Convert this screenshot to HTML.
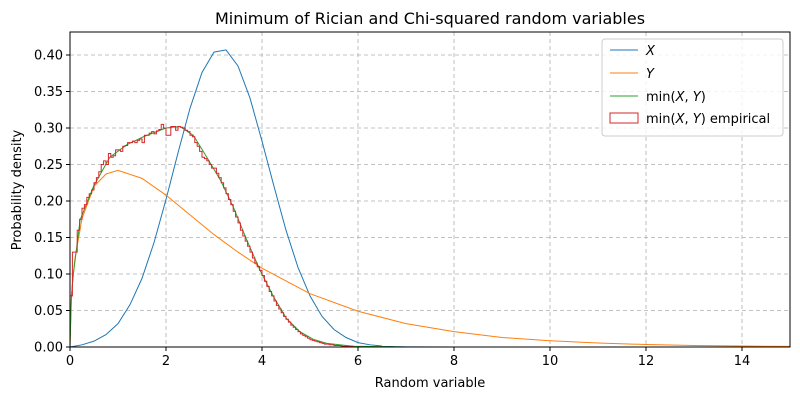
<!DOCTYPE html>
<html><head><meta charset="utf-8"><style>
body{margin:0;background:#fff;}
svg text{font-family:"DejaVu Sans","Liberation Sans",sans-serif;}
</style></head><body>
<svg id="chart" width="800" height="400" xmlns="http://www.w3.org/2000/svg"></svg>
<script>
const xPts = [0,0.25,0.5,0.75,1,1.25,1.5,1.75,2,2.25,2.5,2.75,3,3.25,3.5,3.75,4,4.25,4.5,4.75,5,5.25,5.5,5.75,6,6.25,6.5,6.75,7,8,15];
const xVals = [0,0.003,0.008,0.017,0.032,0.058,0.094,0.143,0.202,0.266,0.327,0.376,0.404,0.407,0.385,0.341,0.282,0.22,0.16,0.109,0.07,0.042,0.024,0.013,0.006,0.003,0.0013,0.0005,0.0002,0,0];
const yPts = [0,0.02,0.05,0.1,0.25,0.5,0.75,1,1.5,2,2.5,3,3.5,4,5,6,7,8,9,10,11,12,13,14,15];
const yVals = [0,0.055,0.087,0.12,0.176,0.22,0.237,0.242,0.231,0.208,0.181,0.154,0.13,0.108,0.073,0.049,0.032,0.021,0.013,0.0085,0.0054,0.0034,0.0021,0.0013,0.0008];
const mPts = [0,0.03,0.07,0.21,0.49,0.83,1.18,1.53,2.0,2.29,2.57,2.85,3.13,3.40,3.68,3.96,4.24,4.51,4.79,5.07,5.35,5.9,7,15];
const mVals = [0,0.07,0.10,0.174,0.22,0.26,0.277,0.288,0.30,0.302,0.29,0.26,0.229,0.192,0.147,0.105,0.069,0.039,0.021,0.0105,0.005,0.001,0,0];
const binWidth = 0.05;
const histVals = [
0.07,0.13,0.13,0.16,0.175,0.19,0.195,0.205,0.21,0.215,
0.225,0.232,0.24,0.25,0.255,0.25,0.265,0.26,0.262,0.27,
0.27,0.268,0.275,0.276,0.28,0.28,0.282,0.28,0.283,0.285,
0.28,0.29,0.29,0.293,0.295,0.292,0.296,0.298,0.305,0.3,
0.29,0.29,0.302,0.302,0.297,0.302,0.301,0.3,0.297,0.295,
0.29,0.288,0.28,0.275,0.268,0.26,0.258,0.255,0.25,0.245,
0.245,0.238,0.232,0.225,0.218,0.21,0.202,0.195,0.186,0.178,
0.17,0.16,0.152,0.145,0.138,0.13,0.122,0.115,0.11,0.105,
0.098,0.09,0.083,0.076,0.07,0.063,0.057,0.052,0.047,0.042,
0.038,0.034,0.03,0.027,0.024,0.021,0.018,0.016,0.014,0.012,
0.01,0.009,0.008,0.007,0.006,0.005,0.004,0.004,0.003,0.003,
0.002,0.002,0.002,0.001,0.001,0.001,0.001,0.001,0,0];
const xTicks = [0,2,4,6,8,10,12,14];
const yTicks = [0,0.05,0.1,0.15,0.2,0.25,0.3,0.35,0.4];

const L=70,R=790,T=32,B=347,XMAX=15,YMAX=0.4315;
const sx=v=>L+v/XMAX*(R-L), sy=v=>B-v/YMAX*(B-T);
const svg=document.getElementById('chart');
const NS='http://www.w3.org/2000/svg';
function mk(tag,attrs,parent){const e=document.createElementNS(NS,tag);for(const k in attrs)e.setAttribute(k,attrs[k]);(parent||svg).appendChild(e);return e;}

const grid=mk('g',{});


xTicks.forEach(t=>{mk('line',{x1:sx(t),x2:sx(t),y1:T,y2:B,stroke:'#b0b0b0','stroke-dasharray':'4,3','stroke-width':0.8},grid);});
yTicks.forEach(t=>{mk('line',{x1:L,x2:R,y1:sy(t),y2:sy(t),stroke:'#b0b0b0','stroke-dasharray':'4,3','stroke-width':0.8},grid);});

function line(px,py,color,name){
  const d=px.map((x,i)=>(i?'L':'M')+sx(x).toFixed(2)+','+sy(py[i]).toFixed(2)).join('');
  const p=mk('path',{d:d,fill:'none',stroke:color,'stroke-width':1});
  
  
}
line(xPts,xVals,'#1f77b4','series-x');
line(yPts,yVals,'#ff7f0e','series-y');
line(mPts,mVals,'#2ca02c','series-min');
let hd='M'+sx(0)+','+sy(0);
histVals.forEach((v,i)=>{hd+='L'+sx(i*binWidth).toFixed(2)+','+sy(v).toFixed(2)+'L'+sx((i+1)*binWidth).toFixed(2)+','+sy(v).toFixed(2);});
hd+='L'+sx(histVals.length*binWidth).toFixed(2)+','+sy(0);
const h=mk('path',{d:hd,fill:'none',stroke:'#d62728','stroke-width':1});



mk('rect',{x:L,y:T,width:R-L,height:B-T,fill:'none',stroke:'#000','stroke-width':1});
xTicks.forEach(t=>{
  mk('line',{x1:sx(t),x2:sx(t),y1:B,y2:B+4,stroke:'#000'});
  const tx=mk('text',{x:sx(t),y:B+18,'font-size':13,'text-anchor':'middle'});tx.textContent=t;
  
  
});
yTicks.forEach(t=>{
  mk('line',{x1:L-4,x2:L,y1:sy(t),y2:sy(t),stroke:'#000'});
  const tx=mk('text',{x:L-7,y:sy(t)+4.5,'font-size':13,'text-anchor':'end'});tx.textContent=t.toFixed(2);
  
  
});
</script>
<svg width="800" height="400" style="position:absolute;left:0;top:0" xmlns="http://www.w3.org/2000/svg">
<text x="430" y="24" font-size="16" text-anchor="middle" font-family="DejaVu Sans, Liberation Sans, sans-serif">Minimum of Rician and Chi-squared random variables</text>
<text x="430" y="387" font-size="13" text-anchor="middle" font-family="DejaVu Sans, Liberation Sans, sans-serif">Random variable</text>
<text x="21" y="190" font-size="13" text-anchor="middle" transform="rotate(-90 21 190)" font-family="DejaVu Sans, Liberation Sans, sans-serif">Probability density</text>
<g font-family="DejaVu Sans, Liberation Sans, sans-serif" font-size="13">
<rect x="602" y="39" width="181" height="97" rx="3" fill="#fff" fill-opacity="0.8" stroke="#ccc"/>
<line x1="610" x2="638" y1="50" y2="50" stroke="#1f77b4"/>
<text x="646" y="55" font-style="italic">X</text>
<line x1="610" x2="638" y1="73" y2="73" stroke="#ff7f0e"/>
<text x="646" y="78" font-style="italic">Y</text>
<line x1="610" x2="638" y1="96" y2="96" stroke="#2ca02c"/>
<text x="646" y="101">min(<tspan font-style="italic">X</tspan>, <tspan font-style="italic">Y</tspan>)</text>
<rect x="610" y="113" width="28" height="10" fill="none" stroke="#d62728"/>
<text x="646" y="123">min(<tspan font-style="italic">X</tspan>, <tspan font-style="italic">Y</tspan>) empirical</text>
</g>
</svg>
</body></html>
